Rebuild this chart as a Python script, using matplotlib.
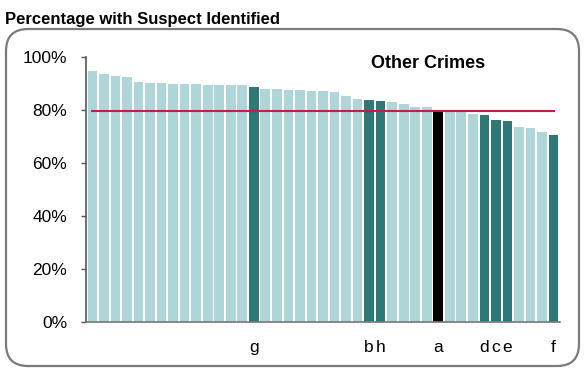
import matplotlib
matplotlib.use("Agg")
import matplotlib.pyplot as plt
from matplotlib.patches import FancyBboxPatch
import numpy as np

plt.rcParams["font.family"] = ["Liberation Sans", "DejaVu Sans"]

# Data (percent with suspect identified)
values = [94.7, 93.6, 92.8, 92.5, 90.6, 90.2, 90.1, 89.9, 89.9, 89.7,
          89.5, 89.4, 89.4, 89.4, 88.8, 87.8, 87.8, 87.5, 87.4, 87.3,
          87.2, 86.8, 85.3, 84.3, 83.7, 83.4, 83.0, 82.3, 81.2, 81.0,
          80.0, 79.4, 79.4, 78.5, 78.1, 76.3, 75.8, 73.5, 73.1, 71.8,
          70.6]
labels = [""] * len(values)
labels[14] = "g"
labels[24] = "b"
labels[25] = "h"
labels[30] = "a"
labels[34] = "d"
labels[35] = "c"
labels[36] = "e"
labels[40] = "f"
highlight = ["g", "b", "h", "d", "c", "e", "f"]
selected = "a"
average = 79.7

light = "#AED6D8"
dark = "#2E7876"
red = "#CC1A48"

colors = []
for lab in labels:
    if lab == selected:
        colors.append("black")
    elif lab in highlight:
        colors.append(dark)
    else:
        colors.append(light)

fig = plt.figure(figsize=(5.84, 3.68), dpi=100)
ax = fig.add_axes([0.1473, 0.125, 0.8124, 0.72])

x = np.arange(len(values))
ax.bar(x, values, width=0.84, color=colors, edgecolor="none", zorder=2)
ax.plot([x[0], x[-1]], [average, average], color=red, lw=1.5, zorder=3)

ax.set_xlim(-0.55, 40.6)
ax.set_ylim(0, 100)
ax.set_yticks([0, 20, 40, 60, 80, 100])
ax.set_yticklabels(["0%", "20%", "40%", "60%", "80%", "100%"])
ax.set_xticks(x)
ax.set_xticklabels(labels)
ax.tick_params(axis="x", length=0, pad=13, labelsize=12.5)
ax.tick_params(axis="y", length=3.5, width=1, color="#555555",
               pad=10, labelsize=12.5)

for side in ["top", "right"]:
    ax.spines[side].set_visible(False)
ax.spines["left"].set_color("#555555")
ax.spines["bottom"].set_color("#777777")
ax.spines["left"].set_linewidth(1.2)
ax.spines["bottom"].set_linewidth(1.2)

ax.text(0.72, 0.975, "Other Crimes", transform=ax.transAxes,
        ha="center", va="center", fontsize=13, fontweight="bold")

fig.text(0.008, 0.935, "Percentage with Suspect Identified",
         ha="left", va="baseline", fontsize=12, fontweight="bold")

frame = FancyBboxPatch((6, 2), 573, 337,
                       boxstyle="round,pad=0,rounding_size=22",
                       transform=None, facecolor="none",
                       edgecolor="#7A7A7A", lw=1.6)
fig.patches.append(frame)

fig.savefig("out.png", dpi=100)
